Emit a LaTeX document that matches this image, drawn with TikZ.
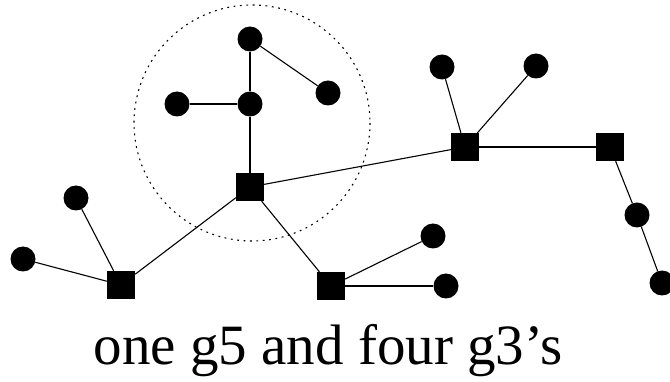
\documentclass[tikz,border=0pt]{standalone}
\usepackage{fontspec}
\setmainfont{Liberation Serif}
\usetikzlibrary{calc}

\begin{document}
\begin{tikzpicture} [x=1pt, y=-1pt, dot/.style={circle, fill=black, inner sep=0, minimum size=25}, box/.style={rectangle, fill=black, inner sep=0, minimum size=28}]
\useasboundingbox (0,0) rectangle (670,382);
\draw[line width=1.1, dash pattern=on 1.8 off 4.6] (252,123) circle (118);
\node[box] (s1) at (250,187) {};
\node[box] (s2) at (121,285) {};
\node[box] (s3) at (331,286) {};
\node[box] (s4) at (465,147) {};
\node[box] (s5) at (610,147) {};
\node[dot] (top) at (250,39) {};
\node[dot] (mid) at (250,104) {};
\node[dot] (lft) at (177,104) {};
\node[dot] (rgt) at (328,93) {};
\node[dot] (b1) at (76,198) {};
\node[dot] (b2) at (23,259) {};
\node[dot] (c1) at (433,236) {};
\node[dot] (c2) at (446,286) {};
\node[dot] (d1) at (442,67) {};
\node[dot] (d2) at (536,66) {};
\node[dot] (e1) at (637,215) {};
\node[dot] (e2) at (662,283) {};
\foreach \a/\b in {top/mid, top/rgt, lft/mid, mid/s1, s1/s2, s1/s3, s1/s4, s2/b1, s2/b2, s3/c1, s3/c2, s4/d1, s4/d2, s4/s5, s5/e1, e1/e2} {
 \draw[line width=1.1] (\a) -- (\b);
}
\node[anchor=base, inner sep=0] (cap) at (328,364) {\fontsize{57}{64}\selectfont one g5 and four g3's};
\end{tikzpicture}
\end{document}
